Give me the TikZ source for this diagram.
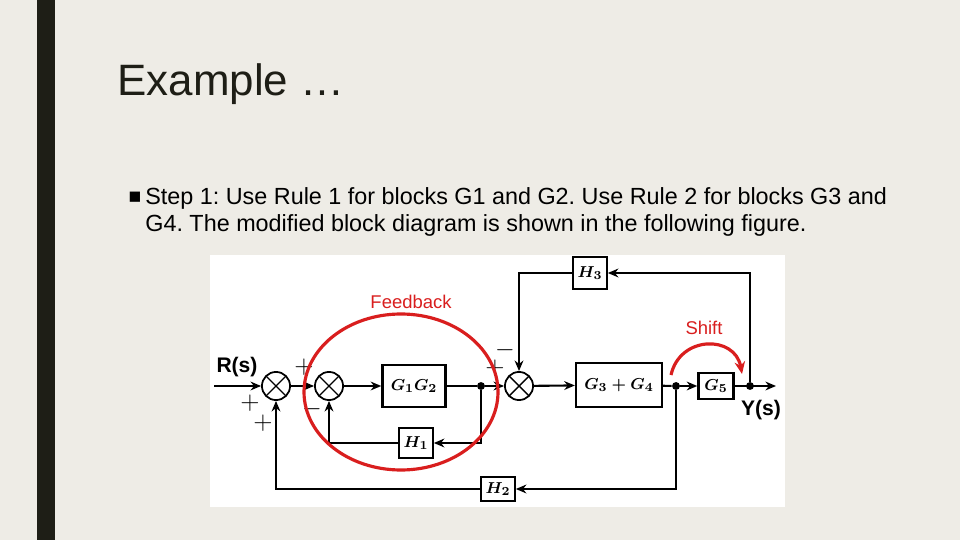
\documentclass[tikz,border=0pt]{standalone}
\usepackage{amsmath}
\usepackage{fontspec}
\setmainfont{Liberation Sans}
\usetikzlibrary{arrows.meta}
\definecolor{slidebg}{HTML}{EEECE6}
\definecolor{barcol}{HTML}{1E1E16}
\definecolor{markred}{HTML}{D91E1E}
\tikzset{
  blk/.style={draw,line width=1.3pt,fill=white,inner sep=0pt,font=\fontsize{9.5}{9.5}\selectfont},
  sum/.style={draw,circle,line width=1pt,minimum size=16pt,inner sep=0pt,fill=white,
    path picture={\draw[line width=0.8pt] (path picture bounding box.south west)--(path picture bounding box.north east)
      (path picture bounding box.north west)--(path picture bounding box.south east);}},
  sig/.style={line width=1.2pt,-{Stealth[length=6pt,width=5pt]}},
  wire/.style={line width=1.2pt},
  dot/.style={circle,fill,inner sep=0pt,minimum size=4.5pt},
  sgn/.style={font=\fontsize{14}{14}\selectfont},
}
\frenchspacing
\begin{document}
\begin{tikzpicture}[x=0.02cm,y=-0.02cm]
\useasboundingbox (0,0) rectangle (960,540);
\fill[slidebg] (0,0) rectangle (960,540);
\fill[barcol] (37,0) rectangle (55,540);
% slide text
\node[anchor=base west,inner sep=0pt,font=\fontsize{25}{25}\selectfont,text=barcol] (title) at (117,96) {Example …};
\node[anchor=base,inner sep=0pt,font=\fontsize{12}{12}\selectfont] (bullet) at (135,204) {■};
\node[anchor=base west,inner sep=0pt,font=\fontsize{13.3}{13.3}\selectfont] (line1) at (145,205) {Step 1: Use Rule 1 for blocks G1 and G2. Use Rule 2 for blocks G3 and};
\node[anchor=base west,inner sep=0pt,font=\fontsize{13.3}{13.3}\selectfont] (line2) at (145,232) {G4. The modified block diagram is shown in the following figure.};
\fill[white] (210,255) rectangle (785,507);

% blocks
\node[sum] (s1) at (276,386) {};
\node[sum] (s2) at (329,386) {};
\node[blk,minimum width=36pt,minimum height=24pt] (g12) at (414,386) {$\boldsymbol{G_1G_2}$};
\node[dot] (j1) at (481,386) {};
\node[blk,minimum width=19pt,minimum height=17pt] (h1) at (416,443) {$\boldsymbol{H_1}$};
\node[sum] (s3) at (519,386) {};
\node[blk,minimum width=49pt,minimum height=25pt] (g34) at (619,385) {$\boldsymbol{G_3+G_4}$};
\node[dot] (j2) at (676,386) {};
\node[blk,minimum width=20pt,minimum height=15pt] (g5) at (716,386) {$\boldsymbol{G_5}$};
\node[dot] (j3) at (750,386) {};
\coordinate (out) at (776,386);
\node[blk,minimum width=19pt,minimum height=18pt] (h3) at (590,273) {$\boldsymbol{H_3}$};
\node[blk,minimum width=19pt,minimum height=14pt] (h2) at (498,489) {$\boldsymbol{H_2}$};
\coordinate (in) at (214,386);

% labels
\node[font=\bfseries\fontsize{12}{12}\selectfont] (rs) at (237,367) {R(s)};
\node[font=\bfseries\fontsize{12}{12}\selectfont] (ys) at (761,410) {Y(s)};
\node[sgn] at (250,403) {$+$};
\node[sgn] at (263,423) {$+$};
\node[sgn] at (304,367) {$+$};
\node[sgn] at (312,409) {$-$};
\node[sgn] at (505,350) {$-$};
\node[sgn] at (495,368) {$+$};

% forward path
\draw[sig] (in) -- (s1);
\draw[sig] (s1) -- (s2);
\draw[sig] (s2) -- (g12);
\draw[wire] (g12) -- (j1);
\draw[sig] (j1) -- (s3);
\draw[sig] (s3) -- (g34);
\draw[wire] (g34) -- (j2);
\draw[sig] (j2) -- (g5);
\draw[sig] (g5) -- (out);

% feedback loops
\draw[sig] (j1) |- (h1);
\draw[sig] (h1) -| (s2);
\draw[sig] (j2) |- (h2);
\draw[sig] (h2) -| (s1);
\draw[sig] (j3) |- (h3);
\draw[sig] (h3) -| (s3);

% annotations
\draw[markred,line width=1.8pt] (401,392) ellipse [x radius=97,y radius=78];
\node[text=markred,font=\fontsize{10.5}{10.5}\selectfont] (fb) at (411,302) {Feedback};
\node[text=markred,font=\fontsize{10.5}{10.5}\selectfont] (sh) at (704,328) {Shift};
\coordinate (sa) at (671,375);
\coordinate (sb) at (742,374);
\draw[markred,line width=1.8pt,-{Stealth[length=7pt,width=6pt]}] (sa) .. controls (680,335) and (735,335) .. (sb);
\end{tikzpicture}
\end{document}
